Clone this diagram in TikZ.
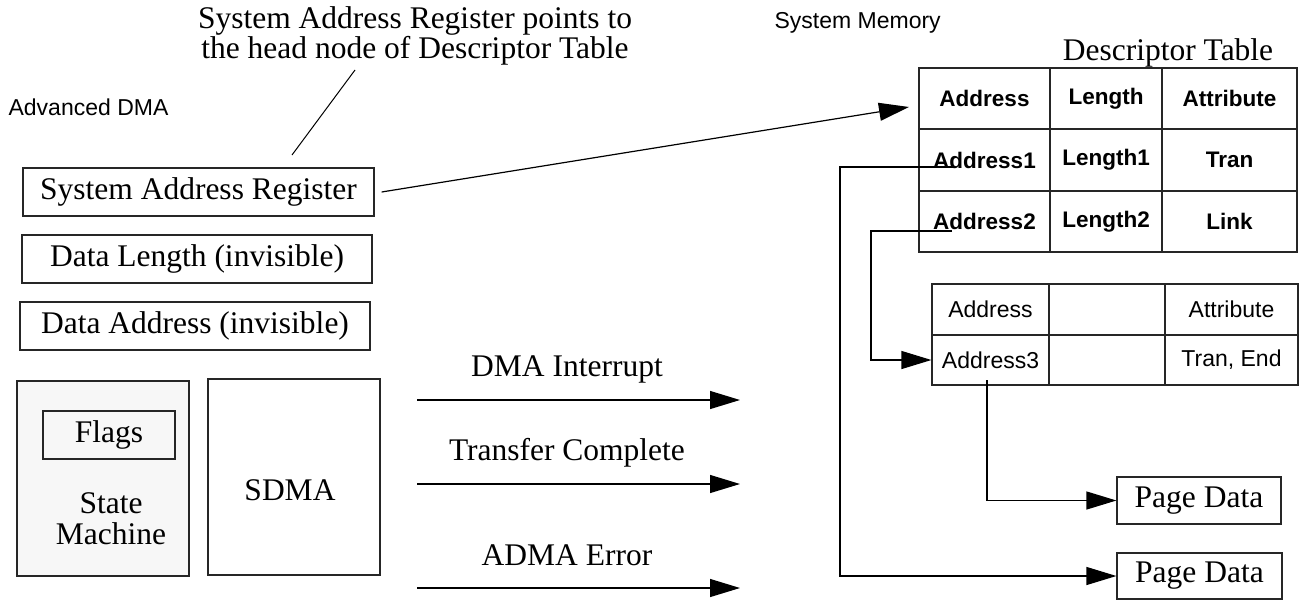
\documentclass[tikz,border=0pt]{standalone}
\usepackage{fontspec}
\setmainfont{Liberation Serif}
\setsansfont{Liberation Sans}
\usetikzlibrary{arrows.meta}
\begin{document}
\begin{tikzpicture}[x=1pt,y=-1pt,
  line width=1.2pt,
  serif/.style={font=\fontsize{31.5}{31}\selectfont},
  box/.style={draw=black!85, line width=1.2pt, inner sep=0pt, serif},
  cellb/.style={draw=black!85, line width=1.2pt, inner sep=0pt, font=\sffamily\bfseries\fontsize{22.5}{26}\selectfont},
  cellr/.style={draw=black!85, line width=1.2pt, inner sep=0pt, font=\sffamily\fontsize{23}{26}\selectfont},
  sanslabel/.style={inner sep=0pt, font=\sffamily\fontsize{23}{26}\selectfont},
  arr/.style={-{Triangle[length=30pt,width=18pt]}, line width=1.2pt},
  lead/.style={line width=1pt}
]
\useasboundingbox (0,0) rectangle (1299,600);

% titles
\node[sanslabel, anchor=west] (adma) at (8,107) {Advanced DMA};
\node[sanslabel, anchor=base west] (smem) at (774,28) {System Memory};
\node[serif, anchor=base, inner sep=0pt] (dtab) at (1168,60) {Descriptor Table};
\node[align=center, anchor=base, inner sep=0pt, font=\fontsize{31.5}{27}\selectfont] (note) at (415,58)
  {System Address Register points to\\the head node of Descriptor Table};

% left registers
\node[box, minimum width=351pt, minimum height=48pt] (sar) at (198.5,192) {System Address Register};
\node[box, minimum width=350pt, minimum height=48pt] (dlen) at (197,259) {Data Length (invisible)};
\node[box, minimum width=350pt, minimum height=48pt] (dadr) at (195,326) {Data Address (invisible)};

% state machine and SDMA
\node[box, fill=black!3, minimum width=172pt, minimum height=195pt] (sm) at (103,478.5) {};
\node[box, minimum width=132pt, minimum height=48pt] (flags) at (109,435) {Flags};
\node[serif, align=center, inner sep=0pt] (smT) at (111,519) {State\\Machine};
\node[box, minimum width=172pt, minimum height=196pt] (sdma) at (294,477) {};
\node[serif, inner sep=0pt] (sdmaT) at (290,490) {SDMA};

% leader line
\coordinate (ldTop) at (355,70);
\coordinate (ldBot) at (292,155);
\draw[lead] (ldTop) -- (ldBot);

% descriptor table
\node[cellb, minimum width=131pt, minimum height=61pt] (h1) at (984.5,98.5) {Address};
\node[cellb, minimum width=112pt, minimum height=61pt] (h2) at (1106,98.5) {Length};
\node[cellb, minimum width=135pt, minimum height=61pt] (h3) at (1229.5,98.5) {Attribute};
\node[cellb, minimum width=131pt, minimum height=62pt] (r1a) at (984.5,160) {Address1};
\node[cellb, minimum width=112pt, minimum height=62pt] (r1b) at (1106,160) {Length1};
\node[cellb, minimum width=135pt, minimum height=62pt] (r1c) at (1229.5,160) {Tran};
\node[cellb, minimum width=131pt, minimum height=61pt] (r2a) at (984.5,221.5) {Address2};
\node[cellb, minimum width=112pt, minimum height=61pt] (r2b) at (1106,221.5) {Length2};
\node[cellb, minimum width=135pt, minimum height=61pt] (r2c) at (1229.5,221.5) {Link};

% second table
\node[cellr, minimum width=117pt, minimum height=51pt] (u11) at (990.5,309.5) {Address};
\node[cellr, minimum width=116pt, minimum height=51pt] (u12) at (1107,309.5) {};
\node[cellr, minimum width=133pt, minimum height=51pt] (u13) at (1231.5,309.5) {Attribute};
\node[cellr, minimum width=117pt, minimum height=50pt] (u21) at (990.5,360) {Address3};
\node[cellr, minimum width=116pt, minimum height=50pt] (u22) at (1107,360) {};
\node[cellr, minimum width=133pt, minimum height=50pt] (u23) at (1231.5,360) {Tran, End};

% page data
\node[box, minimum width=164pt, minimum height=47pt] (pd1) at (1199,500.5) {Page Data};
\node[box, minimum width=165pt, minimum height=46pt] (pd2) at (1199.5,576) {Page Data};

% connectors
\coordinate (dtIn) at (909,107);
\draw[arr] ([xshift=7pt]sar.east) -- (dtIn);
\coordinate (a1) at (953,167);
\coordinate (a1turn) at (840,167);
\draw[arr] (a1) -- (a1turn) |- (pd2.west);
\coordinate (a2) at (952,231);
\coordinate (a2turn) at (871,231);
\draw[arr] (a2) -- (a2turn) |- (u21.west);
\coordinate (a3) at (987,380);
\draw[arr] (a3) |- (pd1.west);

% outputs
\coordinate (o1s) at (417,400); \coordinate (o1e) at (740,400);
\coordinate (o2s) at (417,484); \coordinate (o2e) at (740,484);
\coordinate (o3s) at (417,588); \coordinate (o3e) at (740,588);
\draw[arr] (o1s) -- (o1e);
\draw[arr] (o2s) -- (o2e);
\draw[arr] (o3s) -- (o3e);
\node[serif, anchor=base, inner sep=0pt] (o1t) at (567,376) {DMA Interrupt};
\node[serif, anchor=base, inner sep=0pt] (o2t) at (567,460) {Transfer Complete};
\node[serif, anchor=base, inner sep=0pt] (o3t) at (567,565) {ADMA Error};
\end{tikzpicture}
\end{document}
